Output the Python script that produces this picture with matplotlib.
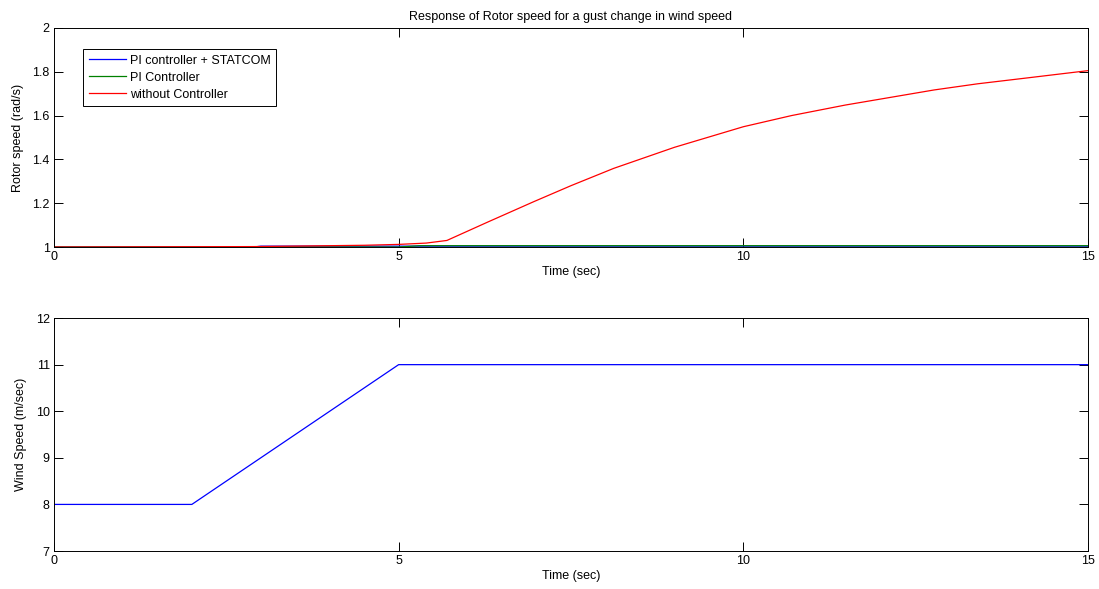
import numpy as np
import matplotlib
matplotlib.use("Agg")
import matplotlib.pyplot as plt

plt.rcParams['font.family'] = ['Liberation Sans', 'DejaVu Sans']
plt.rcParams['font.size'] = 9

# rotor speed curves (rad/s)
t_red = [0, 2.9, 4.5, 5.0, 5.4, 5.7, 6.3, 6.96, 7.5, 8.12, 9.0, 10.0, 10.7, 11.48, 12.77, 13.4, 14.07, 15.0]
w_red = [1.0, 1.002, 1.008, 1.012, 1.018, 1.03, 1.115, 1.207, 1.28, 1.359, 1.455, 1.549, 1.60, 1.648, 1.717, 1.745, 1.77, 1.805]
t_blue = [0, 2.9, 3.0, 15]
w_blue = [1.0, 1.0, 1.004, 1.004]
t_green = [0, 5.0, 5.3, 15]
w_green = [1.0, 1.0, 1.006, 1.006]

# wind speed (m/s)
t_wind = [0, 2, 5, 15]
v_wind = [8, 8, 11, 11]

fig = plt.figure(figsize=(10.99, 5.89), dpi=100)
ax1 = fig.add_axes([0.0491, 0.5806, 0.9409, 0.372])
ax2 = fig.add_axes([0.0491, 0.0645, 0.9409, 0.3955])

ax1.plot(t_blue, w_blue, color='#0000ff', lw=0.9, label='PI controller + STATCOM')
ax1.plot(t_green, w_green, color='#008000', lw=0.9, label='PI Controller')
ax1.plot(t_red, w_red, color='#ff0000', lw=0.9, label='without Controller')
ax1.set_xlim(0, 15)
ax1.set_ylim(1, 2)
ax1.set_xticks([0, 5, 10, 15])
ax1.set_yticks([1, 1.2, 1.4, 1.6, 1.8, 2])
ax1.set_yticklabels(['1', '1.2', '1.4', '1.6', '1.8', '2'])
ax1.set_xlabel('Time (sec)', labelpad=2)
ax1.set_ylabel('Rotor speed (rad/s)', labelpad=6)
ax1.set_title('Response of Rotor speed for a gust change in wind speed', fontsize=9, pad=6)
leg = ax1.legend(loc='upper left', bbox_to_anchor=(0.028, 0.903), fancybox=False,
                 edgecolor='black', framealpha=1, handlelength=3.0, borderpad=0.45,
                 labelspacing=0.4, handletextpad=0.3, borderaxespad=0)
leg.get_frame().set_linewidth(0.7)

ax2.plot(t_wind, v_wind, color='#0000ff', lw=0.9)
ax2.set_xlim(0, 15)
ax2.set_ylim(7, 12)
ax2.set_xticks([0, 5, 10, 15])
ax2.set_yticks([7, 8, 9, 10, 11, 12])
ax2.set_xlabel('Time (sec)', labelpad=2)
ax2.set_ylabel('Wind Speed (m/sec)', labelpad=6)

for ax in (ax1, ax2):
    ax.tick_params(direction='in', top=True, right=True, length=6.5, width=0.7, pad=3)
    for s in ax.spines.values():
        s.set_linewidth(0.7)

fig.savefig('out.png', dpi=100)
